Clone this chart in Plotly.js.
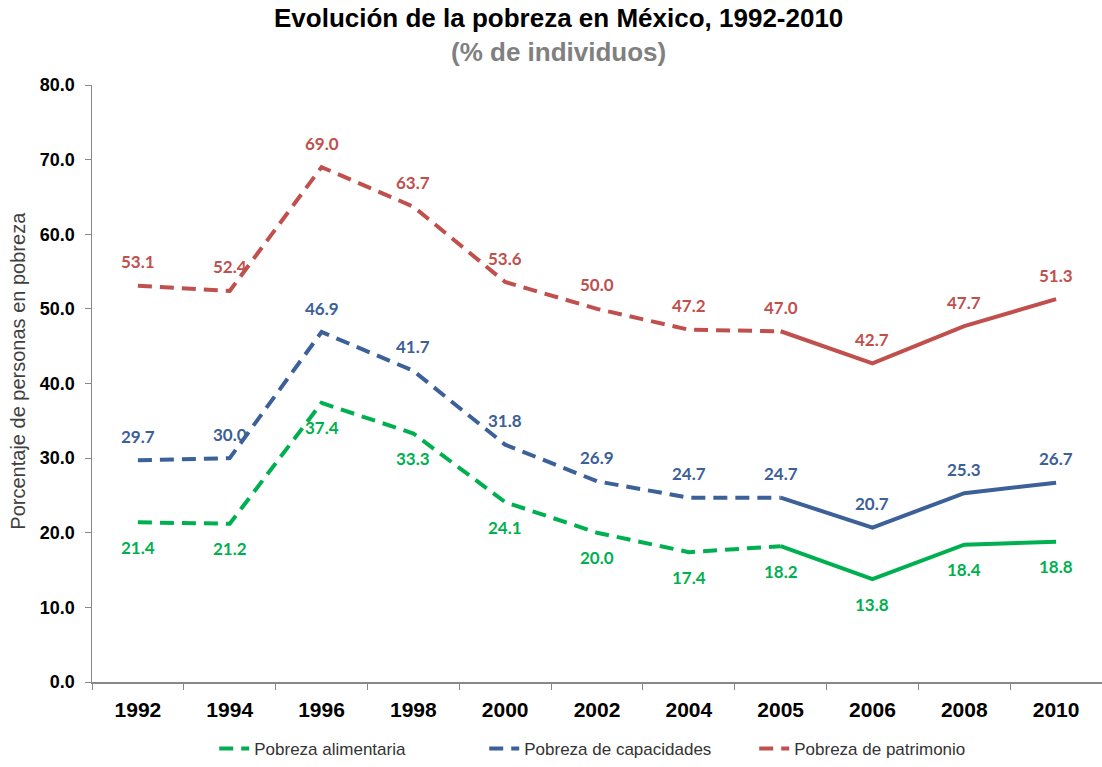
<!DOCTYPE html>
<html>
<head>
<meta charset="utf-8">
<script src="https://cdn.plot.ly/plotly-3.0.1.min.js"></script>
<style>html,body{margin:0;padding:0;background:#fff;}#chart{width:1102px;height:767px;}</style>
</head>
<body>
<div id="chart"></div>
<script>
const years = ["1992","1994","1996","1998","2000","2002","2004","2005","2006","2008","2010"];
const alimentaria = [21.4, 21.2, 37.4, 33.3, 24.1, 20.0, 17.4, 18.2, 13.8, 18.4, 18.8];
const capacidades = [29.7, 30.0, 46.9, 41.7, 31.8, 26.9, 24.7, 24.7, 20.7, 25.3, 26.7];
const patrimonio = [53.1, 52.4, 69.0, 63.7, 53.6, 50.0, 47.2, 47.0, 42.7, 47.7, 51.3];
const seriesNames = ["Pobreza alimentaria", "Pobreza de capacidades", "Pobreza de patrimonio"];
const yTicks = [0, 10, 20, 30, 40, 50, 60, 70, 80];
const splitYear = "2005";

const colors = ["#00B050", "#3C6098", "#C0504D"];
const labelColors = ["#00B050", "#3C6098", "#C0504D"];
const shifts = [-25, 24, 24];
const allSeries = [alimentaria, capacidades, patrimonio];
const splitIdx = years.indexOf(splitYear);

const traces = [];
const annotations = [];
allSeries.forEach((vals, i) => {
  traces.push({
    x: years.slice(0, splitIdx + 1), y: vals.slice(0, splitIdx + 1),
    type: 'scatter', mode: 'lines', name: seriesNames[i],
    line: {color: colors[i], width: 4, dash: '14px,8px'},
    legendgroup: 'g' + i, showlegend: true, hoverinfo: 'skip'
  });
  traces.push({
    x: years.slice(splitIdx), y: vals.slice(splitIdx),
    type: 'scatter', mode: 'lines', name: seriesNames[i],
    line: {color: colors[i], width: 4},
    legendgroup: 'g' + i, showlegend: false, hoverinfo: 'skip'
  });
  years.forEach((yr, j) => {
    annotations.push({
      x: j, y: vals[j], xref: 'x', yref: 'y', text: '<b>' + vals[j].toFixed(1) + '</b>',
      showarrow: false, yshift: shifts[i],
      font: {family: 'Lato, "Open Sans", sans-serif', size: 17, color: labelColors[i]}
    });
  });
});

annotations.push({
  xref: 'paper', yref: 'paper', x: 0.462, y: 1.112, yanchor: 'middle', xanchor: 'center',
  text: '<b>Evolución de la pobreza en México, 1992-2010</b>', showarrow: false,
  font: {family: '"Liberation Sans", Arial, sans-serif', size: 26, color: '#000'}
});
annotations.push({
  xref: 'paper', yref: 'paper', x: 0.462, y: 1.055, yanchor: 'middle', xanchor: 'center',
  text: '<b>(% de individuos)</b>', showarrow: false,
  font: {family: '"Liberation Sans", Arial, sans-serif', size: 26, color: '#808080'}
});
annotations.push({
  xref: 'paper', yref: 'paper', x: -0.073, y: 0.522, xanchor: 'center', yanchor: 'middle',
  text: 'Porcentaje de personas en pobreza', showarrow: false, textangle: -90,
  font: {family: '"Liberation Sans", Arial, sans-serif', size: 20, color: '#404040'}
});

const layout = {
  width: 1102, height: 767,
  margin: {l: 92, r: 0, t: 85, b: 82},
  paper_bgcolor: '#fff', plot_bgcolor: '#fff',
  showlegend: true,
  legend: {orientation: 'h', x: 0.522, xanchor: 'center', y: -0.112, yanchor: 'middle',
    font: {family: '"Liberation Sans", Arial, sans-serif', size: 17, color: '#333'},
    traceorder: 'normal', itemwidth: 30, entrywidth: 225},
  xaxis: {
    type: 'category', categoryorder: 'array', categoryarray: years,
    range: [-0.5, years.length - 0.5],
    showline: true, linecolor: '#888', linewidth: 1.5,
    ticks: 'outside', tickson: 'boundaries', ticklen: 6, tickcolor: '#888',
    showgrid: false, zeroline: false, ticklabelstandoff: 8,
    tickfont: {family: '"Liberation Sans", Arial, sans-serif', size: 21, color: '#000', weight: 'bold'}
  },
  yaxis: {
    range: [0, 80], tickvals: yTicks, ticktext: yTicks.map(v => v.toFixed(1)),
    showline: true, linecolor: '#888', linewidth: 1.5,
    ticks: 'outside', ticklen: 6, tickcolor: '#888',
    showgrid: false, zeroline: false, ticklabelstandoff: 6,
    tickfont: {family: '"Liberation Sans", Arial, sans-serif', size: 18, color: '#000', weight: 'bold'}
  },
  annotations: annotations
};

Plotly.newPlot('chart', traces, layout, {displayModeBar: false, staticPlot: true});
</script>
</body>
</html>
